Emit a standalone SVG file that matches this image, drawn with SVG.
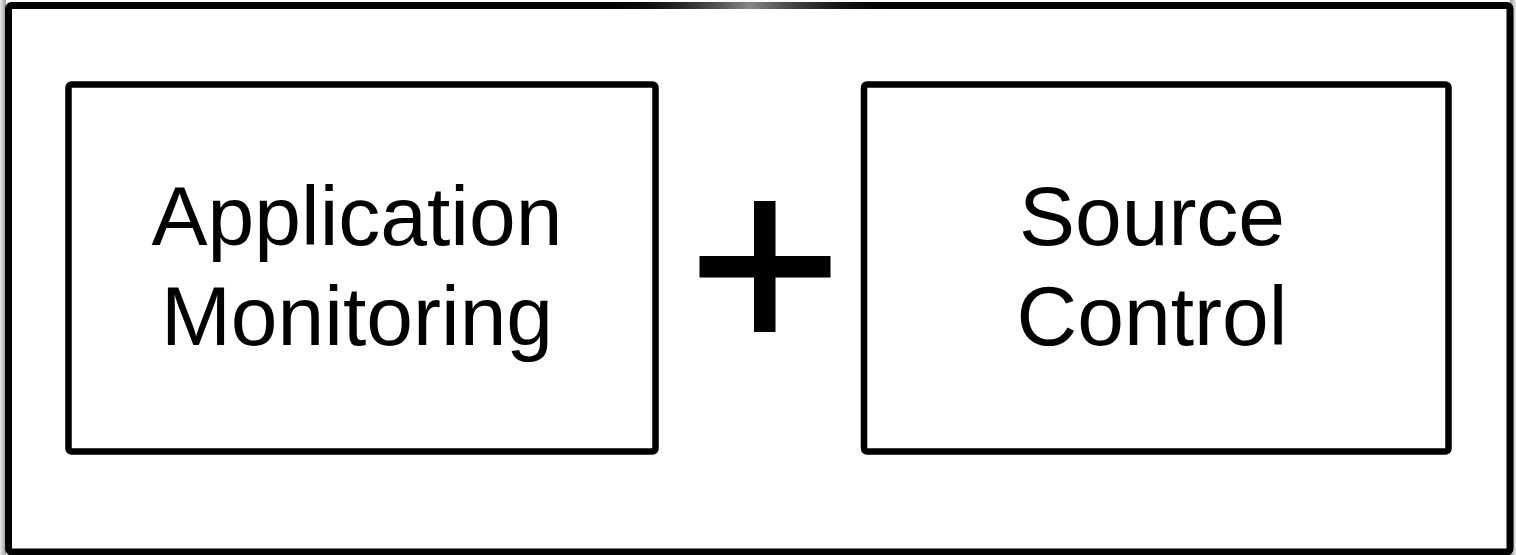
<svg xmlns="http://www.w3.org/2000/svg" width="1516" height="555" viewBox="0 0 1516 555">
  <style>
    .frame { fill: #fff; stroke: #000; stroke-width: 7; }
    .box { fill: #fff; stroke: #000; stroke-width: 6.5; }
    .label { font-family: "Liberation Sans", Arial, Helvetica, sans-serif; font-size: 84px; fill: #000; text-anchor: middle; }
  </style>
  <defs>
    <linearGradient id="edgeShadeL" x1="0" y1="0" x2="1" y2="0">
      <stop offset="0" stop-color="#e8e8e8"/>
      <stop offset="1" stop-color="#9a9a9a"/>
    </linearGradient>
    <linearGradient id="edgeShadeR" x1="0" y1="0" x2="1" y2="0">
      <stop offset="0" stop-color="#9a9a9a"/>
      <stop offset="1" stop-color="#e8e8e8"/>
    </linearGradient>
    <linearGradient id="topGlint" x1="0" y1="0" x2="1" y2="0">
      <stop offset="0" stop-color="#000" stop-opacity="0"/>
      <stop offset="0.5" stop-color="#888" stop-opacity="1"/>
      <stop offset="1" stop-color="#000" stop-opacity="0"/>
    </linearGradient>
    <radialGradient id="topHaze" cx="0.5" cy="0" r="0.5">
      <stop offset="0" stop-color="#000" stop-opacity="0.08"/>
      <stop offset="1" stop-color="#000" stop-opacity="0"/>
    </radialGradient>
  </defs>

  <rect x="0" y="0" width="1516" height="555" fill="#fff"/>
  <!-- soft edge shading around the frame -->
  <rect x="0" y="0" width="6" height="555" fill="url(#edgeShadeL)"/>
  <rect x="1510" y="0" width="6" height="555" fill="url(#edgeShadeR)"/>

  <g id="frame">
    <rect class="frame" x="8.5" y="5.5" width="1501.5" height="546.5" rx="3"/>
    <rect x="600" y="2" width="300" height="7" fill="url(#topGlint)"/>
    <ellipse cx="745" cy="9" rx="170" ry="32" fill="url(#topHaze)"/>
  </g>

  <g id="app-monitoring">
    <rect class="box" x="68.5" y="84.5" width="587" height="367" rx="3"/>
    <text class="label" x="357" y="245">Application</text>
    <text class="label" x="357" y="345">Monitoring</text>
  </g>

  <g id="plus">
    <rect x="754" y="201" width="21.5" height="131" fill="#000"/>
    <rect x="699.5" y="256" width="131" height="21.5" fill="#000"/>
  </g>

  <g id="source-control">
    <rect class="box" x="864" y="84.5" width="584.5" height="367" rx="3"/>
    <text class="label" x="1152" y="245">Source</text>
    <text class="label" x="1152" y="345">Control</text>
  </g>
</svg>
